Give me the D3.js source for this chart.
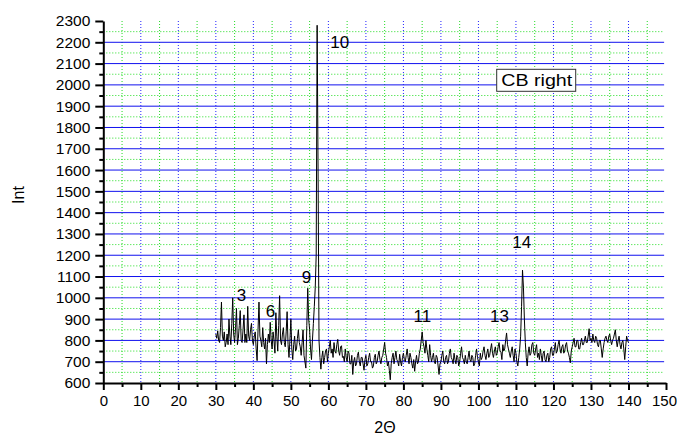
<!DOCTYPE html>
<html>
<head>
<meta charset="utf-8">
<script src="https://cdn.jsdelivr.net/npm/d3@7"></script>
<style>
  body { margin: 0; background: #fff; }
  text { font-family: Arial, "Liberation Sans", sans-serif; }
</style>
</head>
<body>
<div id="xrd_plot"></div>
<script>
// Diffractogram, 2-theta from 30 to 140 in steps of 0.25 (one row per degree)
const thetaStart = 30, thetaStep = 0.25;
const intensity = [
  830, 810, 845, 800,   // 30
  790, 860, 980, 820,   // 31
  800, 840, 770, 790,   // 32
  830, 780, 900, 820,   // 33
  780, 880, 1000, 830,  // 34
  790, 860, 950, 780,   // 35
  810, 870, 940, 800,   // 36
  790, 850, 920, 790,   // 37
  830, 790, 960, 820,   // 38
  800, 850, 880, 800,   // 39
  780, 820, 840, 760,   // 40
  705, 850, 980, 820,   // 41
  800, 770, 860, 790,   // 42
  760, 810, 690, 780,   // 43
  830, 790, 885, 800,   // 44
  760, 840, 800, 740,   // 45
  930, 820, 750, 870,   // 46
  1010, 800, 780, 830,  // 47
  860, 790, 770, 840,   // 48
  935, 780, 720, 800,   // 49
  900, 760, 710, 780,   // 50
  820, 750, 760, 810,   // 51
  850, 790, 770, 730,   // 52
  790, 850, 730, 700,   // 53
  670, 870, 1045, 900,  // 54
  850, 760, 710, 800,   // 55
  880, 960, 1050, 1200, // 56
  2280, 1600, 800, 720, // 57
  665, 720, 750, 690,   // 58
  720, 750, 760, 700,   // 59
  740, 770, 800, 740,   // 60
  760, 720, 790, 750,   // 61
  740, 780, 805, 750,   // 62
  730, 770, 775, 720,   // 63
  725, 700, 760, 720,   // 64
  700, 750, 740, 690,   // 65
  690, 730, 640, 700,   // 66
  720, 680, 690, 730,   // 67
  745, 700, 680, 720,   // 68
  720, 690, 660, 710,   // 69
  730, 680, 690, 720,   // 70
  740, 700, 700, 670,   // 71
  680, 720, 735, 690,   // 72
  700, 730, 750, 710,   // 73
  690, 720, 730, 760,   // 74
  790, 740, 720, 680,   // 75
  700, 660, 615, 690,   // 76
  720, 740, 690, 720,   // 77
  750, 710, 700, 680,   // 78
  735, 700, 680, 720,   // 79
  740, 710, 700, 730,   // 80
  760, 720, 690, 740,   // 81
  720, 690, 670, 710,   // 82
  655, 700, 730, 690,   // 83
  700, 740, 760, 800,   // 84
  840, 790, 770, 740,   // 85
  800, 760, 730, 700,   // 86
  780, 730, 700, 720,   // 87
  740, 700, 690, 730,   // 88
  720, 680, 640, 690,   // 89
  700, 730, 750, 700,   // 90
  690, 720, 730, 690,   // 91
  700, 740, 760, 720,   // 92
  710, 690, 740, 710,   // 93
  690, 730, 720, 680,   // 94
  700, 740, 770, 720,   // 95
  710, 690, 730, 700,   // 96
  690, 720, 750, 710,   // 97
  700, 730, 720, 680,   // 98
  690, 730, 760, 720,   // 99
  700, 680, 740, 710,   // 100
  720, 750, 770, 730,   // 101
  710, 740, 760, 720,   // 102
  730, 760, 785, 740,   // 103
  720, 750, 770, 730,   // 104
  740, 770, 790, 750,   // 105
  745, 710, 780, 750,   // 106
  760, 800, 835, 780,   // 107
  760, 740, 720, 750,   // 108
  770, 730, 700, 760,   // 109
  740, 700, 680, 720,   // 110
  760, 820, 960, 1130,  // 111
  1050, 900, 790, 720,  // 112
  680, 740, 770, 730,   // 113
  740, 780, 790, 740,   // 114
  730, 760, 780, 720,   // 115
  740, 710, 760, 730,   // 116
  700, 740, 750, 710,   // 117
  700, 730, 740, 700,   // 118
  720, 760, 770, 730,   // 119
  730, 760, 790, 740,   // 120
  750, 780, 800, 760,   // 121
  740, 770, 780, 740,   // 122
  750, 780, 790, 750,   // 123
  740, 720, 695, 750,   // 124
  770, 790, 810, 770,   // 125
  770, 800, 800, 760,   // 126
  760, 790, 810, 780,   // 127
  780, 800, 820, 790,   // 128
  790, 820, 855, 800,   // 129
  810, 790, 830, 800,   // 130
  790, 820, 810, 780,   // 131
  770, 800, 800, 760,   // 132
  720, 760, 790, 810,   // 133
  820, 800, 790, 820,   // 134
  830, 800, 780, 800,   // 135
  810, 830, 850, 800,   // 136
  770, 800, 820, 780,   // 137
  760, 790, 800, 760,   // 138
  710, 770, 820, 800,   // 139
  790                   // 140
];

const xTicks = [0, 10, 20, 30, 40, 50, 60, 70, 80, 90, 100, 110, 120, 130, 140, 150];
const xMinor = [5, 15, 25, 35, 45, 55, 65, 75, 85, 95, 105, 115, 125, 135, 145];
const yTicks = [600, 700, 800, 900, 1000, 1100, 1200, 1300, 1400, 1500, 1600, 1700, 1800, 1900, 2000, 2100, 2200, 2300];
const yMinor = [650, 750, 850, 950, 1050, 1150, 1250, 1350, 1450, 1550, 1650, 1750, 1850, 1950, 2050, 2150, 2250];

// peak numbers and where they sit (2-theta, Int)
const peakNames = ["3", "6", "9", "10", "11", "13", "14"];
const peakTheta = [35.6, 43.3, 52.9, 60.5, 82.7, 103.1, 109.0];
const peakInt   = [985, 911, 1068, 2175, 888, 888, 1234];

const legendText = "CB right";

const margin = {top: 21, right: 11, bottom: 54, left: 103.3},
    width = 677 - margin.left - margin.right,
    height = 437 - margin.top - margin.bottom;

const svg = d3.select("#xrd_plot")
  .append("svg")
    .attr("width", 677)
    .attr("height", 437)
  .append("g")
    .attr("transform", `translate(${margin.left},${margin.top})`);

const x = d3.scaleLinear().domain([0, 150]).range([0, width]);
const y = d3.scaleLinear().domain([600, 2300]).range([height, 0]);

// minor grid, green dots
svg.append("g").selectAll("line")
  .data(yMinor)
  .join("line")
    .attr("x1", 0).attr("x2", x(149.5))
    .attr("y1", d => y(d)).attr("y2", d => y(d))
    .attr("stroke", "#22dd22").attr("stroke-dasharray", "1,2");
svg.append("g").selectAll("line")
  .data(xMinor)
  .join("line")
    .attr("x1", d => x(d)).attr("x2", d => x(d))
    .attr("y1", 0).attr("y2", height)
    .attr("stroke", "#22dd22").attr("stroke-dasharray", "1,2");

// major grid, blue
svg.append("g").selectAll("line")
  .data(yTicks.filter(d => d > 600 && d < 2300))
  .join("line")
    .attr("x1", 0).attr("x2", x(149.5))
    .attr("y1", d => y(d)).attr("y2", d => y(d))
    .attr("stroke", "#1010ee");
svg.append("g").selectAll("line")
  .data(xTicks.filter(d => d > 0 && d < 150))
  .join("line")
    .attr("x1", d => x(d)).attr("x2", d => x(d))
    .attr("y1", 0).attr("y2", height)
    .attr("stroke", "#2222ff").attr("stroke-dasharray", "1,2");

// the pattern
const line = d3.line()
  .x((d, i) => x(thetaStart + i * thetaStep))
  .y(d => y(d));
svg.append("path")
  .datum(intensity)
  .attr("d", line)
  .attr("fill", "none")
  .attr("stroke", "#000")
  .attr("stroke-width", 1)
  .attr("stroke-linejoin", "round");

// axes
const xAxis = svg.append("g")
  .attr("transform", `translate(0, ${height})`)
  .call(d3.axisBottom(x).tickValues(xTicks).tickFormat(d3.format("d"))
    .tickSize(7).tickPadding(5).tickSizeOuter(0));
svg.append("g")
  .attr("transform", `translate(0, ${height})`)
  .call(d3.axisBottom(x).tickValues(xMinor).tickSize(4).tickFormat("").tickSizeOuter(0))
  .call(g => g.select(".domain").remove());

const yAxis = svg.append("g")
  .call(d3.axisLeft(y).tickValues(yTicks).tickFormat(d3.format("d"))
    .tickSize(8).tickPadding(5).tickSizeOuter(0));
svg.append("g")
  .call(d3.axisLeft(y).tickValues(yMinor).tickSize(4).tickFormat("").tickSizeOuter(0))
  .call(g => g.select(".domain").remove());

svg.selectAll(".domain").attr("stroke-width", 2);
svg.selectAll(".tick line").attr("stroke-width", 2);
svg.selectAll(".tick text")
  .style("font-size", "15.5px")
  .attr("fill", "#000");
xAxis.selectAll(".tick text").style("font-size", "15px");
// keep the last label inside the window
xAxis.selectAll(".tick text").filter(d => d === 150).attr("dx", "-2");

// axis titles
svg.append("text")
  .attr("transform", `translate(${18 - margin.left}, ${195 - margin.top}) rotate(-90)`)
  .attr("text-anchor", "middle")
  .attr("dy", "0.35em")
  .style("font-size", "16px")
  .text("Int");
svg.append("text")
  .attr("x", 385 - margin.left)
  .attr("y", 433 - margin.top)
  .attr("text-anchor", "middle")
  .style("font-size", "16px")
  .text("2\u0398");

// peak numbers
svg.append("g").selectAll("text")
  .data(peakNames)
  .join("text")
    .attr("x", (d, i) => x(peakTheta[i]))
    .attr("y", (d, i) => y(peakInt[i]))
    .style("font-size", "17px")
    .text(d => d);

// legend box
const lg = svg.append("g").attr("transform", `translate(${496.7 - margin.left}, ${69.3 - margin.top})`);
lg.append("rect")
  .attr("width", 79).attr("height", 22)
  .attr("fill", "#fff").attr("stroke", "#333");
lg.append("text")
  .attr("x", 4.5).attr("y", 16.5)
  .attr("textLength", 71).attr("lengthAdjust", "spacingAndGlyphs")
  .style("font-size", "16px")
  .text(legendText);
</script>
</body>
</html>
